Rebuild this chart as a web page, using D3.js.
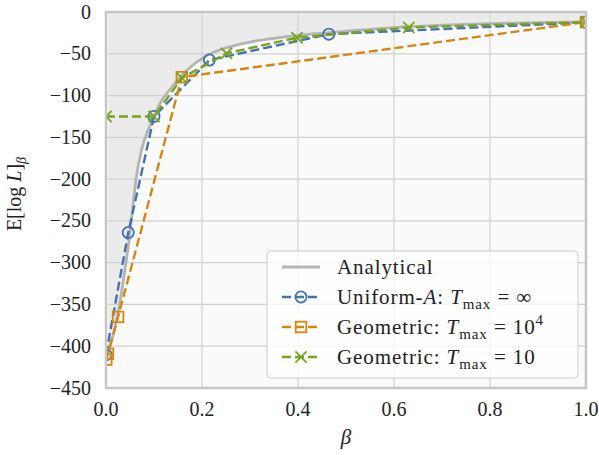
<!DOCTYPE html>
<html>
<head>
<meta charset="utf-8">
<script src="https://cdn.jsdelivr.net/npm/d3@7"></script>
<style>
    html, body { margin: 0; padding: 0; background: #ffffff; }
    svg { display: block; }
</style>
</head>
<body>
<svg id="chart"></svg>
<script>
const WIDTH = 599;
const HEIGHT = 455;
const PLOT = { left: 106, right: 586, top: 12, bottom: 388 };

const TEXT_COLOR = "#222222";
const TICK_FONT = "'Liberation Serif', 'Times New Roman', serif";
const LEGEND_FONT = "'Liberation Serif', 'Times New Roman', serif";

// x ticks / y ticks
const xTicks = [0, 0.2, 0.4, 0.6, 0.8, 1.0];
const xTickLabels = ["0.0", "0.2", "0.4", "0.6", "0.8", "1.0"];
const yTicks = [0, -50, -100, -150, -200, -250, -300, -350, -400, -450];
const yTickLabels = ["0", "\u221250", "\u2212100", "\u2212150", "\u2212200", "\u2212250", "\u2212300", "\u2212350", "\u2212400", "\u2212450"];

// analytical curve
const analyticBeta = [0.005, 0.0094, 0.0178, 0.0297, 0.0408, 0.0506, 0.0565, 0.0631, 0.0736, 0.0909, 0.1, 0.112, 0.133, 0.168, 0.21, 0.25, 0.3, 0.35, 0.4, 0.5, 0.614, 0.7, 0.8, 0.9, 1.0];
const analyticValue = [-405, -398, -380, -345, -303, -262, -230, -198, -166, -137, -125, -110, -93, -70, -52, -43, -36, -31.5, -28, -23, -18, -15.8, -14, -12.7, -11.7];

// Uniform-A, T_max = inf
const uniformBeta = [0, 0.0464, 0.1, 0.2154, 0.4642, 1.0];
const uniformValue = [-410, -264, -125, -57.5, -26.5, -12.5];

// Geometric, T_max = 10^4
const geom4Beta = [0.0006, 0.004, 0.0251, 0.158, 1.0];
const geom4Value = [-416, -409, -365, -78, -12];

// Geometric, T_max = 10
const geom10Beta = [0, 0.1, 0.158, 0.251, 0.398, 0.631, 1.0];
const geom10Value = [-125, -125, -79, -49.5, -30.7, -18.5, -12];

const series = [
    { key: "uniform", betas: uniformBeta, values: uniformValue, color: "#4472b0", marker: "circle",
      label: [{ t: "Uniform-" }, { t: "A", i: true }, { t: ": " }, { t: "T", i: true }, { t: "max", sub: true }, { t: " = \u221e" }] },
    { key: "geom4", betas: geom4Beta, values: geom4Value, color: "#d4870f", marker: "square",
      label: [{ t: "Geometric: " }, { t: "T", i: true }, { t: "max", sub: true }, { t: " = 10" }, { t: "4", sup: true }] },
    { key: "geom10", betas: geom10Beta, values: geom10Value, color: "#78a31c", marker: "cross",
      label: [{ t: "Geometric: " }, { t: "T", i: true }, { t: "max", sub: true }, { t: " = 10" }] }
];

const svg = d3.select("#chart").attr("width", WIDTH).attr("height", HEIGHT);

const x = d3.scaleLinear().domain([0, 1]).range([PLOT.left, PLOT.right]);
const y = d3.scaleLinear().domain([-450, 0]).range([PLOT.bottom, PLOT.top]);

svg.append("defs")
    .append("clipPath")
    .attr("id", "plot-clip")
    .append("rect")
    .attr("x", PLOT.left)
    .attr("y", PLOT.top)
    .attr("width", PLOT.right - PLOT.left)
    .attr("height", PLOT.bottom - PLOT.top);

// plot background
svg.append("rect")
    .attr("x", PLOT.left)
    .attr("y", PLOT.top)
    .attr("width", PLOT.right - PLOT.left)
    .attr("height", PLOT.bottom - PLOT.top)
    .attr("fill", "#fafafa");

const plot = svg.append("g").attr("clip-path", "url(#plot-clip)");

const analyticPoints = analyticBeta.map((b, i) => [b, analyticValue[i]]);

// shaded region above the analytical curve
plot.append("path")
    .datum(analyticPoints)
    .attr("fill", "#ebebeb")
    .attr("d", d3.area()
        .x((d) => x(d[0]))
        .y0(y(0))
        .y1((d) => y(d[1]))
        .curve(d3.curveMonotoneX));

// grid
plot.append("g")
    .selectAll("line")
    .data(xTicks)
    .join("line")
    .attr("x1", (d) => x(d))
    .attr("x2", (d) => x(d))
    .attr("y1", PLOT.top)
    .attr("y2", PLOT.bottom)
    .attr("stroke", "#d0d0d0")
    .attr("stroke-width", 1.2);

plot.append("g")
    .selectAll("line")
    .data(yTicks)
    .join("line")
    .attr("x1", PLOT.left)
    .attr("x2", PLOT.right)
    .attr("y1", (d) => y(d))
    .attr("y2", (d) => y(d))
    .attr("stroke", "#d0d0d0")
    .attr("stroke-width", 1.2);

// analytical curve
plot.append("path")
    .datum(analyticPoints)
    .attr("fill", "none")
    .attr("stroke", "#b4b4b4")
    .attr("stroke-width", 2.8)
    .attr("d", d3.line()
        .x((d) => x(d[0]))
        .y((d) => y(d[1]))
        .curve(d3.curveMonotoneX));

function drawMarker(sel, marker, color) {
    if (marker === "circle") {
        sel.append("circle")
            .attr("r", 5.6)
            .attr("fill", "none")
            .attr("stroke", color)
            .attr("stroke-width", 1.8);
    } else if (marker === "square") {
        sel.append("rect")
            .attr("x", -5.3)
            .attr("y", -5.3)
            .attr("width", 10.6)
            .attr("height", 10.6)
            .attr("fill", "none")
            .attr("stroke", color)
            .attr("stroke-width", 1.8);
    } else {
        sel.append("path")
            .attr("d", "M-5.6,-5.6L5.6,5.6M-5.6,5.6L5.6,-5.6")
            .attr("fill", "none")
            .attr("stroke", color)
            .attr("stroke-width", 1.8);
    }
}

const lineGen = d3.line()
    .x((d) => x(d[0]))
    .y((d) => y(d[1]));

series.forEach((s) => {
    const pts = s.betas.map((b, i) => [b, s.values[i]]);

    plot.append("path")
        .datum(pts)
        .attr("fill", "none")
        .attr("stroke", s.color)
        .attr("stroke-width", 2.4)
        .attr("stroke-dasharray", "9 4")
        .attr("d", lineGen);

    plot.append("g")
        .selectAll("g")
        .data(pts)
        .join("g")
        .attr("transform", (d) => `translate(${x(d[0])}, ${y(d[1])})`)
        .each(function () {
            drawMarker(d3.select(this), s.marker, s.color);
        });
});

// frame
svg.append("rect")
    .attr("x", PLOT.left)
    .attr("y", PLOT.top)
    .attr("width", PLOT.right - PLOT.left)
    .attr("height", PLOT.bottom - PLOT.top)
    .attr("fill", "none")
    .attr("stroke", "#c6c6c6")
    .attr("stroke-width", 2.5);

// tick labels
svg.append("g")
    .selectAll("text")
    .data(xTicks)
    .join("text")
    .attr("x", (d) => x(d))
    .attr("y", 416)
    .attr("text-anchor", "middle")
    .attr("font-family", TICK_FONT)
    .attr("font-size", 20)
    .attr("fill", TEXT_COLOR)
    .text((d, i) => xTickLabels[i]);

svg.append("g")
    .selectAll("text")
    .data(yTicks)
    .join("text")
    .attr("x", 91)
    .attr("y", (d) => y(d))
    .attr("dy", "0.33em")
    .attr("text-anchor", "end")
    .attr("font-family", TICK_FONT)
    .attr("font-size", 20)
    .attr("fill", TEXT_COLOR)
    .text((d, i) => yTickLabels[i]);

// axis labels
svg.append("text")
    .attr("x", (PLOT.left + PLOT.right) / 2)
    .attr("y", 444)
    .attr("text-anchor", "middle")
    .attr("font-family", TICK_FONT)
    .attr("font-size", 21)
    .attr("font-style", "italic")
    .attr("fill", TEXT_COLOR)
    .text("\u03b2");

const yLabel = svg.append("text")
    .attr("transform", "translate(21, 194) rotate(-90)")
    .attr("text-anchor", "middle")
    .attr("font-family", TICK_FONT)
    .attr("font-size", 20)
    .attr("fill", TEXT_COLOR);
yLabel.append("tspan").text("E[log ");
yLabel.append("tspan").attr("font-style", "italic").text("L");
yLabel.append("tspan").text("]");
yLabel.append("tspan").attr("font-style", "italic").attr("font-size", 14).attr("dy", 5).text("\u03b2");

// legend
function writeMath(textSel, parts) {
    let shift = 0;
    parts.forEach((p) => {
        const span = textSel.append("tspan").text(p.t);
        let target = 0;
        if (p.sub) target = 5;
        if (p.sup) target = -9;
        if (p.sub || p.sup) span.attr("font-size", 15);
        if (p.i) span.attr("font-style", "italic");
        if (target !== shift) {
            span.attr("dy", target - shift);
            shift = target;
        }
    });
}

const legend = svg.append("g");
const LEG = { x: 267, y: 251, w: 311, h: 127 };
legend.append("rect")
    .attr("x", LEG.x)
    .attr("y", LEG.y)
    .attr("width", LEG.w)
    .attr("height", LEG.h)
    .attr("rx", 4)
    .attr("fill", "#ffffff")
    .attr("fill-opacity", 0.8)
    .attr("stroke", "#cccccc")
    .attr("stroke-width", 1);

const legendRows = [{ key: "analytical", color: "#b4b4b4", label: [{ t: "Analytical" }] }].concat(series);

legendRows.forEach((row, i) => {
    const cy = 267 + i * 30;
    const g = legend.append("g");
    const handle = g.append("line")
        .attr("x1", 282)
        .attr("x2", 320)
        .attr("y1", cy)
        .attr("y2", cy)
        .attr("stroke", row.color);
    if (row.marker) {
        handle.attr("stroke-width", 2.4).attr("stroke-dasharray", "9 4");
        drawMarker(g.append("g").attr("transform", `translate(301, ${cy})`), row.marker, row.color);
    } else {
        handle.attr("stroke-width", 2.8);
    }
    const label = g.append("text")
        .attr("x", 337)
        .attr("y", cy + 7)
        .attr("font-family", LEGEND_FONT)
        .attr("font-size", 21)
        .attr("letter-spacing", 0.9)
        .attr("fill", TEXT_COLOR);
    writeMath(label, row.label);
});
</script>
</body>
</html>
